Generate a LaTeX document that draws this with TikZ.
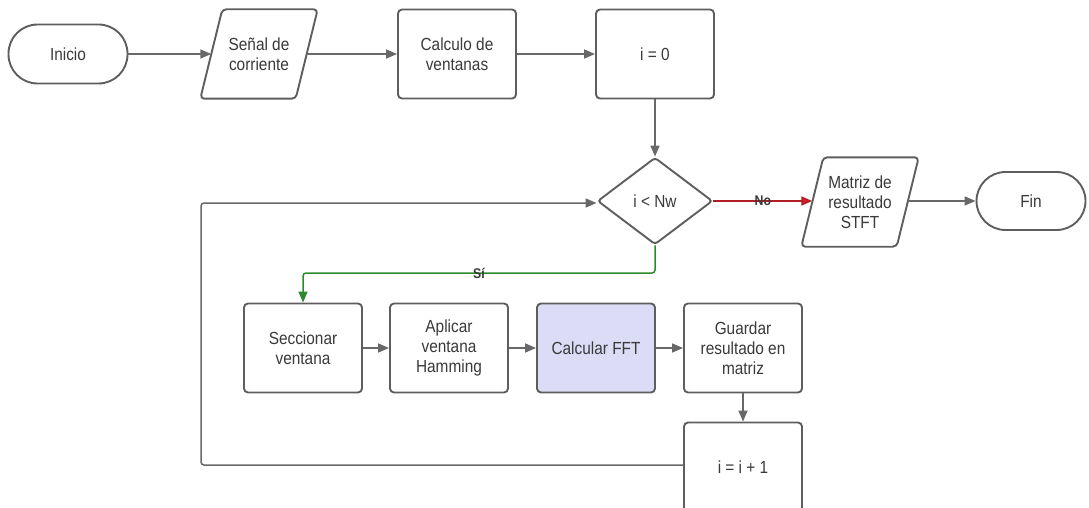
\documentclass[tikz,border=0pt]{standalone}
\usepackage{fontspec}
\setmainfont[FakeStretch=0.88]{Liberation Sans}
\usetikzlibrary{shapes.geometric,arrows.meta}
\definecolor{edge}{HTML}{5E5E5E}
\definecolor{lineg}{HTML}{686868}
\definecolor{txt}{HTML}{3A3A3A}
\definecolor{fftfill}{HTML}{DCDCF6}
\definecolor{noRed}{HTML}{D0222A}
\definecolor{siGreen}{HTML}{2C8A2C}
\begin{document}
\begin{tikzpicture}[x=1pt,y=-1pt,
  every node/.style={font=\fontsize{17.5}{20}\selectfont, text=txt, align=center},
  proc/.style={draw=edge, line width=1.9pt, rounded corners=4pt, fill=white, minimum width=118pt, minimum height=89pt, inner sep=2pt},
  term/.style={draw=edge, line width=1.9pt, rounded corners=29pt, fill=white, minimum width=119pt, minimum height=59pt},
  iotext/.style={minimum width=117pt, minimum height=89pt, inner sep=1pt},
  ioline/.style={draw=edge, line width=1.9pt, rounded corners=4pt, fill=white},
  decis/.style={draw=edge, line width=1.9pt, diamond, rounded corners=3pt, fill=white, minimum width=115pt, minimum height=87pt, inner sep=0pt},
  conn/.style={draw=lineg, line width=1.5pt, -{Triangle[length=11pt,width=9pt]}},
  lbl/.style={font=\fontsize{14}{16}\selectfont\bfseries, text=txt, inner sep=1pt}
]
\useasboundingbox (0,0) rectangle (1089,508);
\node[term] (inicio) at (68,54) {Inicio};
% Señal de corriente
\node[iotext] (senal) at (259,54) {};
\path[ioline] ([xshift=22pt]senal.north west) -- (senal.north east) -- ([xshift=-22pt]senal.south east) -- (senal.south west) -- cycle;
\node at (senal) {Señal de\\corriente};
\node[proc] (calc) at (457,54) {Calculo de\\ventanas};
\node[proc] (izero) at (655,54) {i = 0};
\node[decis] (dec) at (655,201) {i < Nw};
% Matriz
\node[iotext] (matriz) at (860,202) {};
\path[ioline] ([xshift=22pt]matriz.north west) -- (matriz.north east) -- ([xshift=-22pt]matriz.south east) -- (matriz.south west) -- cycle;
\node at (matriz) {Matriz de\\resultado\\STFT};
\node[term, minimum width=109pt, minimum height=58pt] (fin) at (1031,201) {Fin};
\node[proc] (secc) at (303,348) {Seccionar\\ventana};
\node[proc] (aplic) at (449,348) {Aplicar\\ventana\\Hamming};
\node[proc, fill=fftfill] (fft) at (596,348) {Calcular FFT};
\node[proc] (guard) at (743,348) {Guardar\\resultado en\\matriz};
\node[proc] (incr) at (743,467) {i = i + 1};
\coordinate (senalL) at ([xshift=11pt]senal.west);
\coordinate (senalR) at ([xshift=-11pt]senal.east);
\coordinate (matrizL) at ([xshift=11pt]matriz.west);
\coordinate (matrizR) at ([xshift=-11pt]matriz.east);
\coordinate (loopA) at (201,465);
\coordinate (loopB) at (201,203);
\coordinate (greenA) at (655,273);
\coordinate (greenB) at (303,273);

\draw[conn] (inicio.east) -- (senalL);
\draw[conn] (senalR) -- (calc.west |- senalR);
\draw[conn] (calc) -- (izero);
\draw[conn] (izero) -- (dec);
\draw[conn, draw=noRed!85!black, -{Triangle[length=11pt,width=9pt,fill=noRed]}] (dec.east) -- node[lbl, pos=0.5] {No} (matrizL |- dec.east);
\draw[conn] (matrizR |- fin.west) -- (fin.west);
\draw[conn, draw=siGreen, rounded corners=3pt, -{Triangle[length=11pt,width=9pt,fill=siGreen]}] (dec.south) -- (greenA) -- node[lbl, pos=0.5] {Sí} (greenB) -- (secc.north);
\draw[conn] (secc) -- (aplic);
\draw[conn] (aplic) -- (fft);
\draw[conn] (fft) -- (guard);
\draw[conn] (guard) -- (incr);
\draw[conn, rounded corners=3pt] (incr.west |- loopA) -- (loopA) -- (loopB) -- (dec.west |- loopB);
\end{tikzpicture}
\end{document}
